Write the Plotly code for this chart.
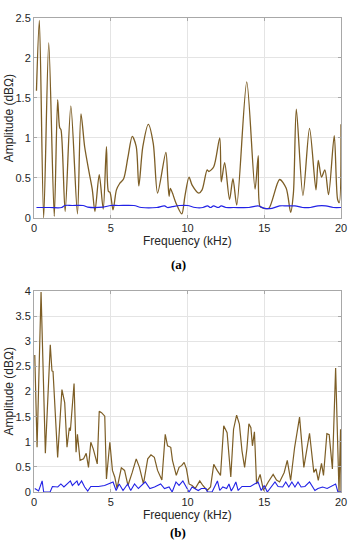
import plotly.graph_objects as go

# ---------- (a) ----------
a_brown_x = [0.16, 0.35, 0.63, 0.96, 1.32, 1.54, 1.67, 1.76, 2.03, 2.4, 2.83, 3.06, 3.3, 3.6, 3.8,
             3.97, 4.25, 4.51, 4.72, 4.85, 4.95, 5.15, 5.37, 5.58, 5.84, 6.12, 6.4, 6.66, 6.83,
             7.09, 7.45, 7.77, 8.05, 8.59, 8.72, 8.8, 8.88, 9.02, 9.24, 9.63, 9.83, 10.1, 10.3,
             10.74, 10.95, 11.28, 11.39, 11.71, 12.1, 12.2, 12.42, 12.74, 12.96, 13.21, 13.86,
             14.4, 14.61, 14.73, 15.0, 15.3, 16.0, 16.43, 16.72, 16.9, 17.09, 17.52, 17.95,
             18.37, 18.52, 18.73, 18.95, 19.19, 19.56, 19.78, 19.89, 20.0]
a_brown_y = [1.59, 2.47, 0.0, 2.19, 0.02, 1.48, 1.13, 1.1, 0.08, 1.40, 0.05, 1.30, 0.89, 0.56, 0.35,
             0.08, 0.54, 0.11, 0.89, 0.33, 0.32, 0.10, 0.35, 0.43, 0.49, 0.76, 1.02, 0.89, 0.40,
             0.89, 1.17, 0.93, 0.31, 0.82, 0.47, 0.27, 0.37, 0.31, 0.19, 0.05, 0.27, 0.51, 0.41,
             0.31, 0.35, 0.60, 0.58, 0.64, 1.00, 0.45, 0.69, 0.23, 0.49, 0.16, 1.70,
             0.36, 0.78, 0.14, 0.12, 0.12, 0.48, 0.37, 0.07, 0.31, 1.36, 0.28, 1.12,
             0.35, 0.72, 0.51, 0.60, 0.29, 1.03, 0.23, 0.19, 1.17]
a_blue_x = [0.16, 1.0, 1.8, 2.0, 2.5, 3.2, 3.5, 4.5, 5.0, 5.5, 6.5, 7.0, 8.0, 8.5, 8.7, 9.0, 9.5,
            10.0, 10.5, 11.0, 11.3, 11.5, 11.7, 12.0, 12.2, 12.5, 13.0, 14.0, 14.6, 15.0, 15.5,
            16.0, 16.5, 17.0, 17.5, 18.0, 18.5, 19.0, 19.5, 20.0]
a_blue_y = [0.13, 0.13, 0.13, 0.155, 0.155, 0.155, 0.135, 0.135, 0.155, 0.155, 0.155, 0.13,
            0.13, 0.15, 0.13, 0.14, 0.155, 0.155, 0.13, 0.13, 0.15, 0.13, 0.15, 0.13, 0.15,
            0.13, 0.13, 0.13, 0.15, 0.12, 0.12, 0.15, 0.15, 0.15, 0.13, 0.13, 0.15, 0.15,
            0.13, 0.13]

# ---------- (b) ----------
b_brown_x = [0.05, 0.2, 0.46, 0.74, 1.06, 1.17, 1.24, 1.54, 1.82, 2.0, 2.15, 2.3, 2.37, 2.61, 2.74,
             2.83, 3.0, 3.23, 3.4, 3.55, 3.7, 3.86, 4.12, 4.25, 4.4, 4.61, 4.72, 4.94, 5.11, 5.26,
             5.41, 5.69, 5.9, 6.12, 6.4, 6.66, 6.87, 7.13, 7.41, 7.62, 7.84, 8.05, 8.33, 8.55,
             8.7, 8.91, 9.02, 9.27, 9.45, 9.63, 9.78, 9.93, 10.1, 10.3, 10.5, 10.8, 11.0, 11.28,
             11.5, 11.71, 11.93, 12.15, 12.36, 12.58, 12.82, 13.0, 13.2, 13.38, 13.55, 13.72,
             13.87, 14.0, 14.13, 14.23, 14.36, 14.5, 14.73, 14.95, 15.26, 15.58, 15.8, 16.0,
             16.3, 16.5, 16.72, 16.98, 17.3, 17.58, 17.95, 18.23, 18.37, 18.52, 18.73, 18.86,
             19.08, 19.23, 19.44, 19.65, 19.87, 19.97, 20.0]
b_brown_y = [2.73, 0.89, 3.98, 0.77, 2.93, 2.41, 2.40, 0.69, 2.04, 1.78, 0.89, 1.28, 1.22, 2.16, 0.79,
             1.15, 0.63, 0.66, 0.77, 0.49, 0.99, 0.86, 0.56, 1.61, 1.58, 1.51, 0.26, 0.99, 0.43, 0.30,
             0.07, 0.48, 0.43, 0.13, 0.39, 0.66, 0.49, 0.16, 0.66, 0.74, 0.69, 0.43, 0.24, 1.15,
             0.92, 0.89, 0.63, 0.33, 0.49, 0.53, 0.59, 0.46, 0.16, 0.13, 0.07, 0.22, 0.13, 0.03,
             0.10, 0.55, 0.43, 0.33, 1.32, 1.18, 0.30, 1.25, 1.53, 1.35, 0.82, 0.49,
             0.86, 1.36, 1.28, 0.92, 1.20, 0.16, 0.35, 0.03, 0.20, 0.35, 0.24, 0.20,
             0.39, 0.63, 0.23, 0.89, 1.49, 0.49, 1.17, 0.39, 0.46, 0.23, 0.57, 0.33,
             1.16, 1.14, 0.46, 2.47, 0.0, 1.25, 0.0]
b_blue_x = [0.05, 0.3, 0.53, 0.63, 1.05, 1.2, 1.55, 1.75, 1.95, 2.37, 2.5, 2.8, 2.9, 3.1, 3.3, 3.5,
            3.7, 4.2, 4.6, 5.15, 5.35, 5.55, 5.8, 6.1, 6.3, 6.55, 6.8, 7.25, 7.55, 7.85, 8.25,
            8.5, 8.8, 9.0, 9.25, 9.45, 9.7, 9.9, 10.1, 10.3, 10.7, 10.9, 11.2, 11.3, 11.6, 11.95,
            12.1, 12.3, 12.55, 12.7, 12.85, 13.0, 13.15, 13.3, 13.55, 14.1, 14.6, 14.8, 15.0,
            15.2, 15.45, 15.7, 15.9, 16.2, 16.4, 16.6, 16.8, 17.0, 17.2, 17.4, 17.65, 17.95,
            18.3, 18.5, 18.8, 19.1, 19.65, 19.8, 20.0]
b_blue_y = [0.07, 0.02, 0.22, 0.0, 0.0, 0.11, 0.10, 0.16, 0.10, 0.22, 0.13, 0.22, 0.13, 0.22, 0.10,
            0.02, 0.11, 0.11, 0.13, 0.20, 0.03, 0.16, 0.03, 0.16, 0.03, 0.16, 0.07, 0.20, 0.07,
            0.10, 0.16, 0.07, 0.10, 0.0, 0.20, 0.13, 0.22, 0.10, 0.0, 0.10, 0.03, 0.07, 0.07,
            0.0, 0.0, 0.22, 0.03, 0.10, 0.07, 0.16, 0.02, 0.10, 0.20, 0.03, 0.11, 0.11, 0.20,
            0.03, 0.13, 0.0, 0.11, 0.20, 0.11, 0.10, 0.20, 0.10, 0.20, 0.10, 0.20, 0.10, 0.11,
            0.20, 0.03, 0.07, 0.10, 0.07, 0.16, 0.0, 0.0]

x_ticks = [0, 5, 10, 15, 20]
a_y_ticks = [0, 0.5, 1, 1.5, 2, 2.5]
b_y_ticks = [0, 0.5, 1, 1.5, 2, 2.5, 3, 3.5, 4]

BROWN = "#7d5e26"
BLUE = "#2222e6"

fig = go.Figure()
fig.add_trace(go.Scatter(x=a_brown_x, y=a_brown_y, mode="lines",
                         line=dict(color=BROWN, width=1.3, shape="spline", smoothing=0.8),
                         xaxis="x", yaxis="y", showlegend=False))
fig.add_trace(go.Scatter(x=a_blue_x, y=a_blue_y, mode="lines",
                         line=dict(color=BLUE, width=1.2, shape="spline"),
                         xaxis="x", yaxis="y", showlegend=False))
fig.add_trace(go.Scatter(x=b_brown_x, y=b_brown_y, mode="lines",
                         line=dict(color=BROWN, width=1.2),
                         xaxis="x2", yaxis="y2", showlegend=False))
fig.add_trace(go.Scatter(x=b_blue_x, y=b_blue_y, mode="lines",
                         line=dict(color=BLUE, width=1.1),
                         xaxis="x2", yaxis="y2", showlegend=False))

H_PLOT = 550 - 13 - 58
ax_common = dict(showline=True, linecolor="#a8a8a8", linewidth=1, mirror="ticks",
                 ticks="inside", ticklen=3, tickcolor="#a8a8a8",
                 showgrid=True, gridcolor="#e4e4e4", gridwidth=1, zeroline=False,
                 tickfont=dict(family="Liberation Sans, Arial", size=11, color="#262626"))

fig.update_layout(
    width=359, height=550,
    margin=dict(l=34, r=14, t=13, b=58),
    paper_bgcolor="white", plot_bgcolor="white",
    xaxis=dict(domain=[0, 1], range=[0, 20], tickvals=x_ticks, anchor="y", **ax_common),
    yaxis=dict(domain=[1 - 202 / H_PLOT, 1], range=[0, 2.5], tickvals=a_y_ticks,
               anchor="x", **ax_common),
    xaxis2=dict(domain=[0, 1], range=[0, 20], tickvals=x_ticks, anchor="y2", **ax_common),
    yaxis2=dict(domain=[0, 203 / H_PLOT], range=[0, 4], tickvals=b_y_ticks,
                anchor="x2", **ax_common),
)

def px_to_paper_y(py):
    return (550 - 58 - py) / H_PLOT

def px_to_paper_x(px):
    return (px - 34) / (359 - 34 - 14)

lab_font = dict(family="Liberation Sans, Arial", size=12, color="#262626")
cap_font = dict(family="Liberation Serif, Times New Roman", size=13, color="#000000")
ann = [
    dict(text="Frequency (kHz)", x=px_to_paper_x(189), y=px_to_paper_y(238), font=lab_font),
    dict(text="Frequency (kHz)", x=px_to_paper_x(189), y=px_to_paper_y(515), font=lab_font),
    dict(text="Amplitude (dBΩ)", x=px_to_paper_x(9), y=px_to_paper_y(114), font=lab_font,
         textangle=-90),
    dict(text="Amplitude (dBΩ)", x=px_to_paper_x(9), y=px_to_paper_y(390), font=lab_font,
         textangle=-90),
    dict(text="<b>(a)</b>", x=px_to_paper_x(180), y=px_to_paper_y(262), font=cap_font),
    dict(text="<b>(b)</b>", x=px_to_paper_x(180), y=px_to_paper_y(533), font=cap_font),
]
for a in ann:
    fig.add_annotation(xref="paper", yref="paper", showarrow=False,
                       xanchor="center", yanchor="middle", **a)

fig.write_html("out.html", config={"displayModeBar": False},
               post_script="document.body.style.margin='0';document.body.style.overflow='hidden';")
